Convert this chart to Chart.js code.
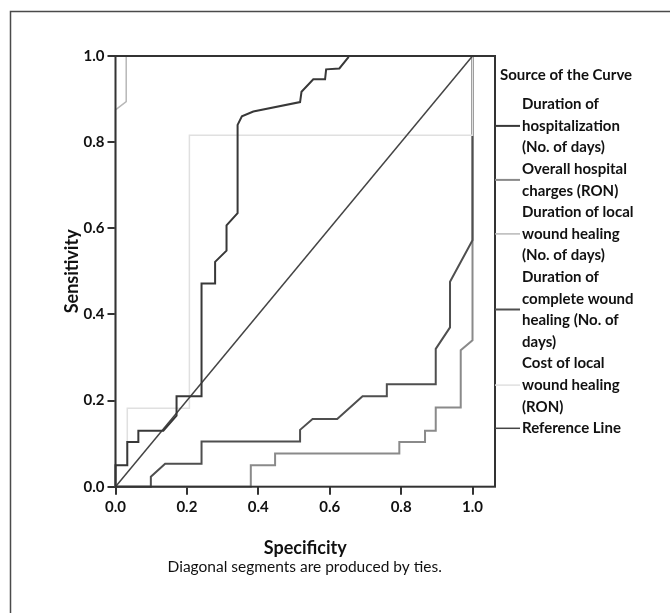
<!DOCTYPE html>
<html>
<head>
<meta charset="utf-8">
<title>ROC curves</title>
<script src="https://cdn.jsdelivr.net/npm/chart.js@4.4.1/dist/chart.umd.min.js"></script>
<style>
    html, body { margin: 0; padding: 0; background: #fff; }
    #wrap { position: relative; width: 670px; height: 613px; }
</style>
</head>
<body>
<div id="wrap"><canvas id="roc_chart"></canvas></div>
<script>
/**
* Tick values shared by both axes
*/
const xTicks = [0, 0.2, 0.4, 0.6, 0.8, 1.0];
const yTicks = [0, 0.2, 0.4, 0.6, 0.8, 1.0];

/**
* ROC curves (x = 1 - specificity, y = sensitivity)
*/
const hospX = [0, 0, 0.033, 0.033, 0.064, 0.064, 0.134, 0.171, 0.171, 0.241, 0.241, 0.279, 0.279, 0.311, 0.311, 0.342, 0.342, 0.354, 0.386, 0.517, 0.521, 0.554, 0.587, 0.59, 0.627, 0.652, 0.652, 1];
const hospY = [0, 0.05, 0.05, 0.104, 0.104, 0.13, 0.13, 0.165, 0.21, 0.21, 0.472, 0.472, 0.522, 0.548, 0.607, 0.635, 0.84, 0.86, 0.871, 0.893, 0.917, 0.946, 0.946, 0.969, 0.971, 0.997, 1, 1];

const chargesX = [0, 0.379, 0.379, 0.447, 0.447, 0.795, 0.795, 0.867, 0.867, 0.897, 0.897, 0.967, 0.967, 1, 1];
const chargesY = [0, 0, 0.05, 0.05, 0.077, 0.077, 0.104, 0.104, 0.13, 0.13, 0.184, 0.184, 0.317, 0.34, 1];

const localX = [0, 0, 0.03, 0.03, 1];
const localY = [0, 0.875, 0.894, 1, 1];

const completeX = [0, 0.099, 0.099, 0.139, 0.241, 0.241, 0.517, 0.517, 0.552, 0.621, 0.692, 0.76, 0.76, 0.897, 0.897, 0.937, 0.937, 1, 1];
const completeY = [0, 0, 0.023, 0.053, 0.053, 0.105, 0.105, 0.132, 0.157, 0.157, 0.21, 0.21, 0.238, 0.238, 0.32, 0.37, 0.476, 0.572, 1];

const costX = [0, 0, 0.033, 0.033, 0.207, 0.207, 1, 1];
const costY = [0, 0.05, 0.05, 0.182, 0.182, 0.816, 0.816, 1];

const refX = [0, 1];
const refY = [0, 1];

const legendTitle = 'Source of the Curve';
const legendLines = [
    ['Duration of', 'hospitalization', '(No. of days)'],
    ['Overall hospital', 'charges (RON)'],
    ['Duration of local', 'wound healing', '(No. of days)'],
    ['Duration of', 'complete wound', 'healing (No. of', 'days)'],
    ['Cost of local', 'wound healing', '(RON)'],
    ['Reference Line']
];
const footNote = 'Diagonal segments are produced by ties.';

function toPoints(xs, ys) {
    return xs.map(function (x, i) { return {x: x, y: ys[i]}; });
}

const FONT = 'Lato, "Open Sans", sans-serif';
Chart.defaults.font.family = FONT;
Chart.defaults.color = '#111';

function curve(label, xs, ys, color, width, order) {
    return {
        label: label,
        data: toPoints(xs, ys),
        showLine: true,
        borderColor: color,
        backgroundColor: color,
        borderWidth: width,
        pointRadius: 0,
        pointHoverRadius: 0,
        tension: 0,
        clip: false,
        order: order
    };
}

const datasets = [
    curve(legendLines[0].join(' '), hospX, hospY, '#383838', 2, 0),
    curve(legendLines[1].join(' '), chargesX, chargesY, '#8a8a8a', 2, 4),
    curve(legendLines[2].join(' '), localX, localY, '#b8b8b8', 1.5, 5),
    curve(legendLines[3].join(' '), completeX, completeY, '#4f4f4f', 2, 3),
    curve(legendLines[4].join(' '), costX, costY, '#e0e0e0', 1.5, 2),
    curve(legendLines[5].join(' '), refX, refY, '#444', 1.5, 1)
];

/**
* Frame, plot box, legend on the right and foot note
*/
const rocDecor = {
    id: 'rocDecor',
    beforeDraw(chart) {
        const ctx = chart.ctx;
        ctx.save();
        ctx.strokeStyle = '#4a4a4a';
        ctx.lineWidth = 1.5;
        ctx.strokeRect(10.5, 11.5, 720, 720);
        ctx.restore();
    },
    afterDatasetsDraw(chart) {
        const {ctx, chartArea: {top, bottom, left, right}, scales: {x}} = chart;
        ctx.save();

        ctx.strokeStyle = '#333';
        ctx.lineWidth = 2;
        ctx.strokeRect(left, top, right - left, bottom - top);

        ctx.fillStyle = '#111';
        ctx.textBaseline = 'middle';
        ctx.textAlign = 'left';
        ctx.font = 'bold 15px ' + FONT;
        ctx.fillText(legendTitle, right + 5, top + 19);

        const lineH = 21.6;
        let rowTop = top + 37.5;
        legendLines.forEach(function (lines, i) {
            const ds = chart.data.datasets[i];
            const midY = rowTop + lines.length * lineH / 2;
            ctx.strokeStyle = ds.borderColor;
            ctx.lineWidth = ds.borderWidth;
            ctx.beginPath();
            ctx.moveTo(right, midY);
            ctx.lineTo(right + 25, midY);
            ctx.stroke();
            ctx.fillStyle = '#111';
            lines.forEach(function (t, j) {
                ctx.fillText(t, right + 27, rowTop + (j + 0.5) * lineH);
            });
            rowTop += lines.length * lineH;
        });

        ctx.font = '15.5px ' + FONT;
        ctx.textAlign = 'center';
        ctx.fillText(footNote, x.getPixelForValue(0.53), 567);
        ctx.restore();
    }
};

const ctx = document.getElementById('roc_chart').getContext('2d');
let rocChart = new Chart(ctx, {
    type: 'scatter',
    data: { datasets },
    plugins: [rocDecor],
    options: {
        responsive: true,
        maintainAspectRatio: false,
        animation: false,
        layout: {
            padding: {top: 56, right: 175, bottom: 0, left: 0}
        },
        plugins: {
            legend: { display: false },
            tooltip: { enabled: false }
        },
        scales: {
            x: {
                type: 'linear',
                min: 0,
                max: 1.063,
                afterBuildTicks(scale) {
                    scale.ticks = xTicks.map(function (v) { return {value: v}; });
                },
                afterFit(scale) {
                    scale.height = 126.3;
                },
                ticks: {
                    padding: 3,
                    font: {size: 15, weight: 'bold'},
                    color: '#111',
                    callback: function (v) { return Number(v).toFixed(1); }
                },
                grid: {
                    drawOnChartArea: false,
                    drawTicks: true,
                    tickLength: 8,
                    color: '#333',
                    lineWidth: 2
                },
                border: { display: false },
                title: {
                    display: true,
                    text: 'Specificity',
                    font: {size: 18, weight: 'bold'},
                    color: '#111',
                    padding: {top: 0, bottom: 54}
                }
            },
            y: {
                type: 'linear',
                min: 0,
                max: 1,
                afterBuildTicks(scale) {
                    scale.ticks = yTicks.map(function (v) { return {value: v}; });
                },
                afterFit(scale) {
                    scale.width = 115.5;
                },
                ticks: {
                    padding: 3,
                    font: {size: 15, weight: 'bold'},
                    color: '#111',
                    callback: function (v) { return Number(v).toFixed(1); }
                },
                grid: {
                    drawOnChartArea: false,
                    drawTicks: true,
                    tickLength: 8,
                    color: '#333',
                    lineWidth: 2
                },
                border: { display: false },
                title: {
                    display: true,
                    text: 'Sensitivity',
                    font: {size: 18, weight: 'bold'},
                    color: '#111',
                    padding: {top: 61, bottom: 0}
                }
            }
        }
    }
});
</script>
</body>
</html>
